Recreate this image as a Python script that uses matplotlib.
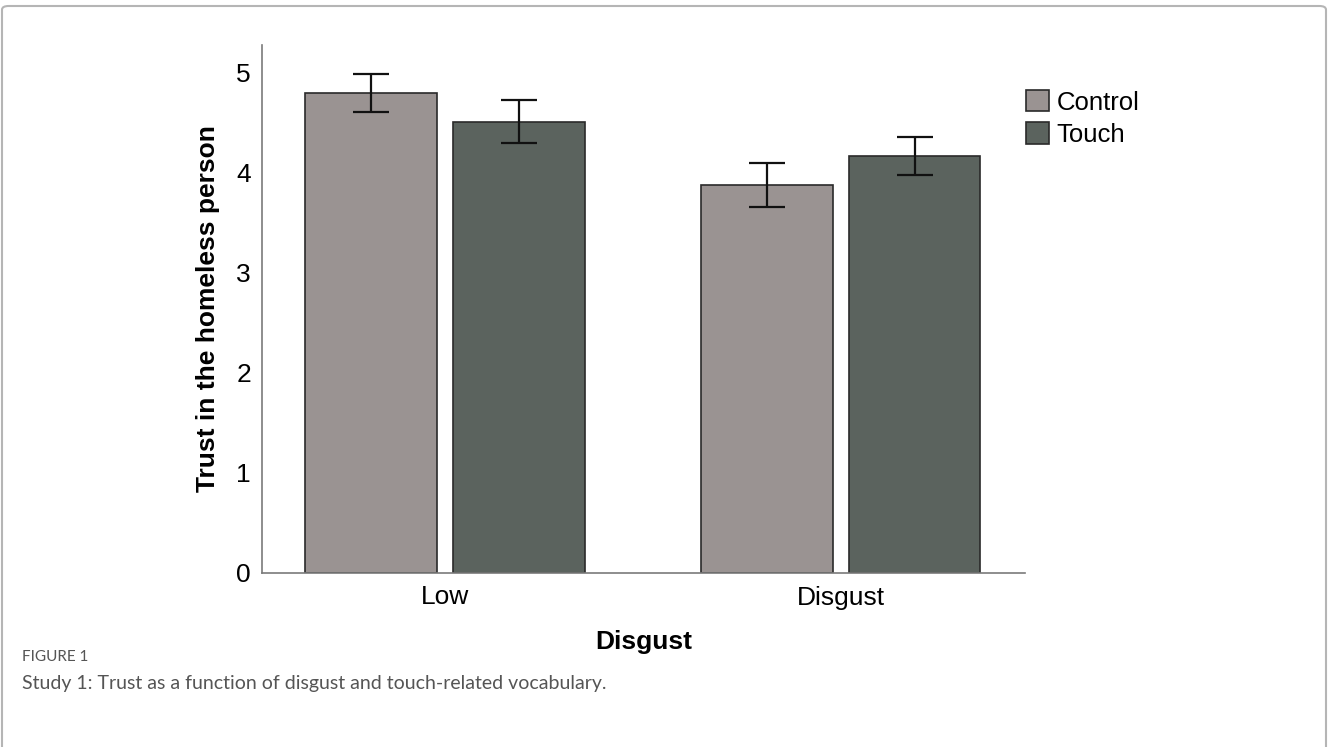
import matplotlib
matplotlib.use('Agg')
import matplotlib.pyplot as plt
from matplotlib.patches import FancyBboxPatch
import numpy as np

# Data
groups = ['Low', 'Disgust']
conditions = ['Control', 'Touch']
means = {
    'Control': [4.80, 3.88],
    'Touch': [4.51, 4.17],
}
err_low = {
    'Control': [4.61, 3.66],
    'Touch': [4.30, 3.98],
}
err_high = {
    'Control': [4.99, 4.10],
    'Touch': [4.73, 4.36],
}
colors = {'Control': '#9a9392', 'Touch': '#5b635e'}

plt.rcParams['font.family'] = ['Liberation Sans', 'DejaVu Sans']

fig = plt.figure(figsize=(13.28, 7.47), dpi=100)

# outer frame of the figure panel
frame = FancyBboxPatch((2 / 1328, -0.1), 1324 / 1328, 1.1 - 6 / 747,
                       boxstyle='round,pad=0,rounding_size=0.005',
                       transform=fig.transFigure, fill=False,
                       edgecolor='#b5b5b5', linewidth=1.5, clip_on=False)
fig.patches.append(frame)

ax = fig.add_axes([262 / 1328, (747 - 573) / 747, 763 / 1328, 528 / 747])

x = np.arange(len(groups))
width = 0.333
offsets = {'Control': -0.186, 'Touch': 0.186}
for cond in conditions:
    xs = x + offsets[cond]
    m = np.array(means[cond])
    lo = m - np.array(err_low[cond])
    hi = np.array(err_high[cond]) - m
    ax.bar(xs, m, width, color=colors[cond], edgecolor='#2a2a2a',
           linewidth=1.2, label=cond, zorder=2)
    ax.errorbar(xs, m, yerr=[lo, hi], fmt='none', ecolor='#111111',
                elinewidth=1.6, capsize=13, capthick=1.6, zorder=3)

ax.set_xlim(-0.462, 1.465)
ax.set_ylim(0, 5.28)
ax.set_xticks(x)
ax.set_xticklabels(groups)
ax.set_yticks([0, 1, 2, 3, 4, 5])
ax.tick_params(axis='both', length=0, labelsize=19)
ax.tick_params(axis='y', pad=8)
ax.tick_params(axis='x', pad=9)

for side in ['top', 'right']:
    ax.spines[side].set_visible(False)
for side in ['left', 'bottom']:
    ax.spines[side].set_color('#7a7a7a')
    ax.spines[side].set_linewidth(1.2)

ax.set_ylabel('Trust in the homeless person', fontsize=19, fontweight='bold')
ax.set_xlabel('Disgust', fontsize=19, fontweight='bold')
ax.yaxis.set_label_coords(-0.055, 0.5)
ax.xaxis.set_label_coords(0.5, -0.108)

leg = ax.legend(loc='upper left', bbox_to_anchor=(1026 / 1328, 1 - 90 / 747),
                bbox_transform=fig.transFigure, frameon=False, fontsize=18.5,
                handlelength=0.9, handleheight=0.9, handletextpad=0.3,
                labelspacing=0.3, borderpad=0, borderaxespad=0)

fig.text(22 / 1328, 1 - 657 / 747, 'FIGURE 1', fontsize=11, color='#555555',
         family=['Lato', 'DejaVu Sans'], va='center', ha='left')
fig.text(22 / 1328, 1 - 684 / 747,
         'Study 1: Trust as a function of disgust and touch-related vocabulary.',
         fontsize=14, color='#555555', family=['Lato', 'DejaVu Sans'],
         va='center', ha='left')

fig.savefig('out.png', dpi=100)
